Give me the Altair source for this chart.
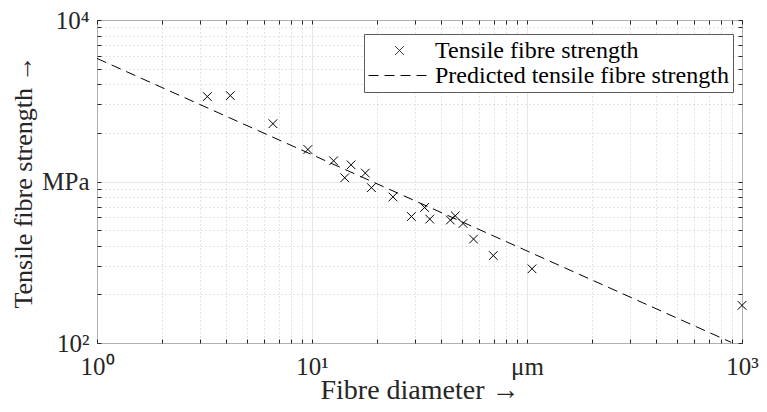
import altair as alt
import pandas as pd

# ---------------- data ----------------
fibre_diameter = [3.26, 4.17, 6.58, 9.57, 12.6, 15.2, 14.2, 17.7, 18.9, 23.8,
                  29.0, 33.4, 35.3, 44.0, 46.4, 50.4, 56.4, 69.7, 105.5, 1000]
fibre_strength = [3357, 3404, 2280, 1578, 1343, 1268, 1055, 1128, 916, 803,
                  607, 690, 585, 577, 613, 550, 440, 348, 288, 171]
pred_diameter = [1, 890]
pred_strength = [5780, 101]

series_names = ["Tensile fibre strength", "Predicted tensile fibre strength"]

x_major = [1, 10, 100, 1000]
x_major_labels = ["10⁰", "10¹", "μm", "10³"]
y_major = [100, 1000, 10000]
y_major_labels = ["10²", "MPa", "10⁴"]

x_ticks = [m * 10 ** e for e in range(3) for m in range(1, 10)] + [1000]
y_ticks = [m * 10 ** e for e in range(2, 4) for m in range(1, 10)] + [10000]

# ---------------- styling ----------------
FONT = "Liberation Serif"
AX = "#262626"
MAJOR_GRID = "#dedede"
MINOR_GRID = "#c8c8c8"
CROSS = "M-0.14,-0.14L0.14,0.14M0.14,-0.14L-0.14,0.14"


def label_expr(vals, labels):
    parts = [f"datum.value == {v} ? '{l}'" for v, l in zip(vals, labels)]
    return " : ".join(parts) + " : ''"


def major_test(vals):
    return f"indexof({list(vals)}, datum.value) >= 0"


points_df = pd.DataFrame({"d": fibre_diameter, "s": fibre_strength,
                          "series": series_names[0]})
line_df = pd.DataFrame({"d": pred_diameter, "s": pred_strength,
                        "series": series_names[1]})

x_scale = alt.Scale(type="log", domain=[1, 1000], nice=False)
y_scale = alt.Scale(type="log", domain=[100, 10000], nice=False)

common_axis = dict(labelOverlap=False, labelFlush=False, labelFont=FONT,
                   labelFontSize=25, labelColor=AX, tickSize=4, tickColor=AX,
                   tickWidth=1, domain=False, offset=-4, gridWidth=1,
                   titleFont=FONT, titleColor=AX, titleFontWeight="normal",
                   titleBaseline="alphabetic")

x_axis = alt.Axis(orient="bottom", values=x_ticks,
                  labelExpr=label_expr(x_major, x_major_labels),
                  labelPadding=11, grid=True,
                  gridColor={"condition": {"test": major_test(x_major), "value": MAJOR_GRID},
                             "value": MINOR_GRID},
                  gridDash={"condition": {"test": major_test(x_major), "value": [1, 0]},
                            "value": [1, 3]},
                  title="Fibre diameter →", titleFontSize=28, titleY=59.5,
                  **common_axis)

y_axis = alt.Axis(orient="left", values=y_ticks,
                  labelExpr=label_expr(y_major, y_major_labels),
                  labelPadding=8, grid=True,
                  gridColor={"condition": {"test": major_test(y_major), "value": MAJOR_GRID},
                             "value": MINOR_GRID},
                  gridDash={"condition": {"test": major_test(y_major), "value": [1, 0]},
                            "value": [1, 3]},
                  title="Tensile fibre strength →", titleFontSize=26, titleX=-70,
                  **common_axis)

x_axis_top = alt.Axis(orient="top", values=x_ticks, labels=False, grid=False,
                      domain=False, tickSize=4, tickColor=AX, offset=-4, title=None)
y_axis_right = alt.Axis(orient="right", values=y_ticks, labels=False, grid=False,
                        domain=False, tickSize=4, tickColor=AX, offset=-4, title=None)

legend = alt.Legend(title=None, orient="none", legendX=267, legendY=14,
                    fillColor="white", strokeColor="#5a5a5a", padding=4,
                    symbolSize=3844, symbolStrokeWidth=1, symbolStrokeColor="black",
                    symbolFillColor="transparent", labelFont=FONT, labelFontSize=24,
                    labelColor="black", labelLimit=600, clipHeight=25,
                    rowPadding=0, labelOffset=4)

points = alt.Chart(points_df).mark_point(
    filled=False, size=3844, strokeWidth=1, color="black", opacity=1
).encode(
    x=alt.X("d:Q", scale=x_scale, axis=x_axis),
    y=alt.Y("s:Q", scale=y_scale, axis=y_axis),
    shape=alt.Shape("series:N",
                    scale=alt.Scale(domain=series_names, range=[CROSS, "stroke"]),
                    legend=legend),
)

line = alt.Chart(line_df).mark_line(color="black", strokeWidth=1).encode(
    x=alt.X("d:Q", scale=x_scale, axis=x_axis_top),
    y=alt.Y("s:Q", scale=y_scale, axis=y_axis_right),
    strokeDash=alt.StrokeDash("series:N",
                              scale=alt.Scale(domain=series_names, range=[[1, 0], [10, 6]]),
                              legend=legend),
)

chart = alt.layer(points, line).resolve_axis(
    x="independent", y="independent"
).properties(
    width=645, height=323,
    autosize=alt.AutoSizeParams(type="none"),
    padding={"left": 89, "top": 12, "right": 17, "bottom": 61},
    background="white",
).configure_view(stroke=AX, strokeWidth=1)

chart.save("out.html", embed_options={"renderer": "svg", "actions": False})
